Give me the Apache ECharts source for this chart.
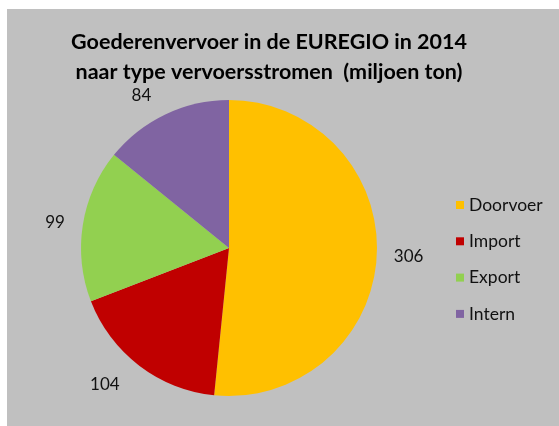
<!DOCTYPE html>
<html><head><meta charset="utf-8">
<script src="https://cdn.jsdelivr.net/npm/echarts@6/dist/echarts.min.js"></script>
<style>html,body{margin:0;padding:0;background:#fff;}#c{position:absolute;left:7px;top:9px;width:552px;height:417px;}</style>
</head><body><div id="c"></div>
<script>
const categories = ['Doorvoer', 'Import', 'Export', 'Intern'];
const values = [306, 104, 99, 84];
const colors = ['#FFC000', '#C00000', '#92D050', '#8064A2'];
const labelLineLengths = [12, 24, 13, 21];
const titleLines = ['Goederenvervoer in de EUREGIO in 2014', 'naar type vervoersstromen  (miljoen ton)'];

const chart = echarts.init(document.getElementById('c'));
const font = 'Lato, "Open Sans", sans-serif';
chart.setOption({
  backgroundColor: '#C0C0C0',
  animation: false,
  title: {
    text: titleLines.join('\n'),
    left: 257, top: 13, textAlign: 'center',
    textStyle: { fontFamily: font, fontSize: 21.5, fontWeight: 'bold', color: '#000', lineHeight: 30 }
  },
  legend: {
    orient: 'vertical', left: 444, top: 182,
    icon: 'rect', itemWidth: 8, itemHeight: 8, itemGap: 18.3,
    textStyle: { fontFamily: font, fontSize: 17.5, color: '#111' },
    data: categories
  },
  series: [{
    type: 'pie',
    center: [222, 239], radius: 148,
    startAngle: 90, clockwise: true,
    avoidLabelOverlap: false,
    label: { show: true, position: 'outside', formatter: '{c}', fontFamily: font, fontSize: 17, color: '#111' },
    labelLine: { show: false, length: 14, length2: 0 },
    itemStyle: { borderWidth: 0 },
    emphasis: { disabled: true },
    data: categories.map((n, i) => ({
      name: n, value: values[i],
      itemStyle: { color: colors[i] },
      labelLine: { show: false, length: labelLineLengths[i], length2: 0 }
    }))
  }]
});
</script></body></html>
